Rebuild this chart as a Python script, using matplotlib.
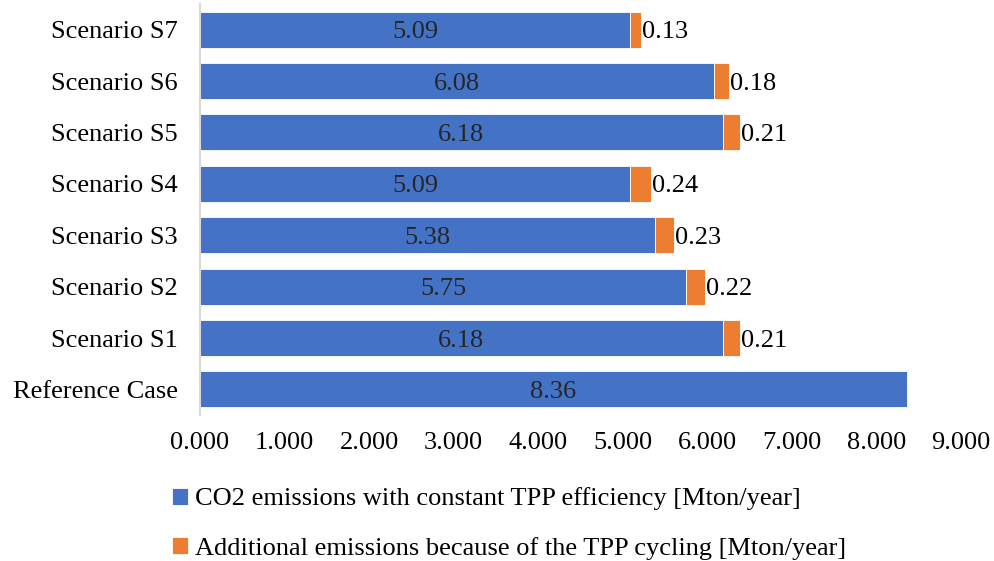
import matplotlib.pyplot as plt
import numpy as np

plt.rcParams['font.family'] = ['Liberation Serif', 'DejaVu Serif']

categories = ["Reference Case", "Scenario S1", "Scenario S2", "Scenario S3",
              "Scenario S4", "Scenario S5", "Scenario S6", "Scenario S7"]
base_emissions = [8.36, 6.18, 5.75, 5.38, 5.09, 6.18, 6.08, 5.09]
cycling_emissions = [0.0, 0.21, 0.22, 0.23, 0.24, 0.21, 0.18, 0.13]
xticks = [0, 1, 2, 3, 4, 5, 6, 7, 8, 9]

blue = "#4472C4"
orange = "#ED7D31"
fs = 19

fig = plt.figure(figsize=(9.95, 5.61), dpi=100)
ax = fig.add_axes([0.201, 0.260, 0.765, 0.733])

y = np.arange(len(categories))
b1 = ax.barh(y, base_emissions, height=0.70, color=blue, edgecolor="white", linewidth=0.6,
             label="CO2 emissions with constant TPP efficiency [Mton/year]")
b2 = ax.barh(y[1:], cycling_emissions[1:], left=base_emissions[1:], height=0.70, color=orange,
             edgecolor="white", linewidth=0.6,
             label="Additional emissions because of the TPP cycling [Mton/year]")

# value labels
for i, v in enumerate(base_emissions):
    ax.text(v / 2, i, f"{v:.2f}", ha="center", va="center_baseline", fontsize=fs, color="#262626")
for i in range(1, len(categories)):
    tot = base_emissions[i] + cycling_emissions[i]
    ax.text(tot + 0.01, i, f"{cycling_emissions[i]:.2f}", ha="left", va="center_baseline", fontsize=fs)

ax.set_xlim(0, 9)
ax.set_ylim(-0.5, len(categories) - 0.5)
ax.set_xticks(xticks)
ax.set_xticklabels([f"{t:.3f}" for t in xticks], fontsize=fs)
ax.set_yticks(y)
ax.set_yticklabels(categories, fontsize=fs)
ax.tick_params(axis="x", length=0, pad=12)
ax.tick_params(axis="y", length=0, pad=16)
for s in ["top", "right", "bottom"]:
    ax.spines[s].set_visible(False)
ax.spines["left"].set_color("#D9D9D9")
ax.spines["left"].set_linewidth(1.5)

fig.legend(handles=[b1, b2], loc="upper left", bbox_to_anchor=(0.173, 0.131),
           ncol=1, frameon=False, fontsize=fs, handlelength=0.6, handleheight=0.6,
           handletextpad=0.25, labelspacing=1.0, borderaxespad=0, borderpad=0)

fig.savefig("out.png", dpi=100)
